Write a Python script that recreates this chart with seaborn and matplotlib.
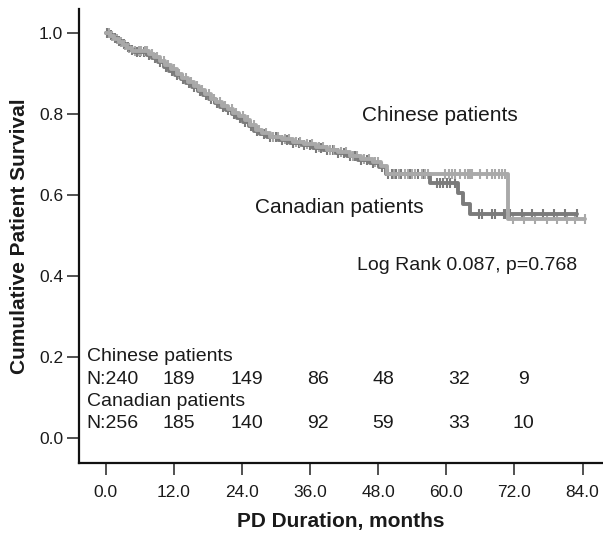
import numpy as np
import pandas as pd
import matplotlib
matplotlib.use("Agg")
import matplotlib.pyplot as plt
import seaborn as sns

# Kaplan-Meier step points (months, cumulative survival)
chinese_time = [0, 0.8, 1.5, 2.3, 3.0, 3.8, 4.6, 7.6, 8.5, 9.5, 10.5, 11.5, 12.5, 13.5,
                14.5, 15.5, 16.5, 17.5, 18.5, 19.5, 20.5, 21.5, 22.5, 23.5, 24.5, 25.5,
                26.5, 27.5, 29.0, 31.0, 33.0, 35.0, 37.0, 39.0, 41.0, 43.0, 45.0, 47.0,
                48.5, 49.5, 70.9]
chinese_surv = [1.0, 0.993, 0.985, 0.977, 0.97, 0.963, 0.955, 0.948, 0.94, 0.93, 0.92, 0.91,
                0.899, 0.889, 0.879, 0.869, 0.858, 0.848, 0.838, 0.829, 0.82, 0.812, 0.803,
                0.794, 0.786, 0.773, 0.760, 0.752, 0.744, 0.737, 0.731, 0.726, 0.719, 0.712,
                0.705, 0.697, 0.689, 0.681, 0.672, 0.652, 0.540]
chinese_censor = [0.5, 1.2, 2.0, 2.7, 3.4, 4.1, 5.2, 5.8, 6.3, 6.9, 7.3, 8.1, 9.0, 10.2,
                  11.0, 12.1, 13.0, 14.2, 15.0, 16.1, 17.0, 18.2, 19.0, 20.1, 21.0, 22.2,
                  23.0, 24.1, 25.0, 26.2, 27.0, 28.2, 29.5, 30.3, 31.5, 32.3, 33.5, 34.3,
                  35.5, 36.3, 37.5, 38.3, 39.5, 40.3, 41.5, 42.3, 43.5, 44.3, 45.5, 46.3,
                  47.5, 48.0, 50.7, 51.6, 52.7, 53.3, 53.9, 54.5, 55.7, 56.3, 56.8, 59.8,
                  60.4, 61.0, 61.5, 62.4, 63.3, 63.9, 64.2, 64.5, 66.0, 67.1, 68.0, 68.6,
                  69.2, 69.8, 70.4, 71.8, 73.6, 75.6, 77.7, 79.5, 81.2, 82.7, 84.5]

canadian_time = [0, 0.6, 1.3, 2.0, 2.8, 3.5, 4.3, 5.0, 7.2, 8.2, 9.2, 10.2, 11.2, 12.2,
                 13.2, 14.2, 15.2, 16.2, 17.2, 18.2, 19.2, 20.2, 21.2, 22.2, 23.2, 24.2,
                 25.2, 26.2, 27.2, 28.5, 30.5, 32.5, 34.5, 36.5, 38.5, 40.5, 42.5, 44.5,
                 46.5, 48.2, 49.3, 57.1, 62.1, 63.0, 64.2]
canadian_surv = [1.0, 0.995, 0.988, 0.98, 0.972, 0.965, 0.958, 0.953, 0.946, 0.937, 0.927,
                 0.917, 0.906, 0.896, 0.886, 0.876, 0.866, 0.856, 0.846, 0.836, 0.827, 0.818,
                 0.809, 0.8, 0.791, 0.781, 0.769, 0.758, 0.75, 0.742, 0.735, 0.729, 0.723,
                 0.717, 0.71, 0.703, 0.695, 0.687, 0.679, 0.67, 0.652, 0.629, 0.604, 0.578,
                 0.553]
canadian_censor = [0.3, 0.9, 1.7, 2.4, 3.2, 3.9, 4.7, 5.5, 6.1, 6.7, 7.6, 8.6, 9.6, 10.6,
                   11.6, 12.6, 13.6, 14.6, 15.6, 16.6, 17.6, 18.6, 19.6, 20.6, 21.6, 22.6,
                   23.6, 24.6, 25.6, 26.6, 27.8, 29.0, 30.0, 31.0, 32.0, 33.0, 34.0, 35.0,
                   36.0, 37.0, 38.0, 39.0, 40.0, 41.0, 42.0, 43.0, 44.0, 45.0, 46.0, 47.0,
                   48.6, 49.8, 50.5, 51.2, 52.0, 53.6, 55.0, 56.0, 58.3, 58.9, 59.5, 60.1,
                   60.7, 61.5, 65.7, 66.3, 68.0, 68.6, 70.1, 70.4, 71.2, 73.3, 75.1, 77.1,
                   78.9, 80.9, 83.0]

# Numbers at risk
risk_times = [0, 12, 24, 36, 48, 60, 72]
chinese_at_risk = [240, 189, 149, 86, 48, 32, 9]
canadian_at_risk = [256, 185, 140, 92, 59, 33, 10]

x_ticks = [0, 12, 24, 36, 48, 60, 72, 84]
y_ticks = [0.0, 0.2, 0.4, 0.6, 0.8, 1.0]

groups = ["Canadian patients", "Chinese patients"]
palette = {"Chinese patients": "#a9a9a9", "Canadian patients": "#7b7b7b"}

sns.set_theme(style="ticks")
plt.rcParams["font.family"] = ["Liberation Sans", "DejaVu Sans"]
text_color = "#1a1a1a"


def step_frame(times, surv, censor, name):
    t = list(times) + [max(censor)]
    s = list(surv) + [surv[-1]]
    return pd.DataFrame({"time": t, "survival": s, "group": name})


def censor_frame(times, surv, censor, name):
    idx = np.searchsorted(np.asarray(times), np.asarray(censor), side="right") - 1
    return pd.DataFrame({"time": censor, "survival": np.asarray(surv)[idx], "group": name})


curves = pd.concat([
    step_frame(canadian_time, canadian_surv, canadian_censor, "Canadian patients"),
    step_frame(chinese_time, chinese_surv, chinese_censor, "Chinese patients"),
], ignore_index=True)
marks = pd.concat([
    censor_frame(canadian_time, canadian_surv, canadian_censor, "Canadian patients"),
    censor_frame(chinese_time, chinese_surv, chinese_censor, "Chinese patients"),
], ignore_index=True)

fig = plt.figure(figsize=(6.03, 5.33), dpi=100)
ax = fig.add_axes([79 / 603, 70 / 533, 524 / 603, 454 / 533])

for g in groups:
    sns.lineplot(data=curves[curves.group == g], x="time", y="survival",
                 color=palette[g], drawstyle="steps-post", estimator=None, sort=False,
                 linewidth=2.8, legend=False, ax=ax)
    sns.scatterplot(data=marks[marks.group == g], x="time", y="survival",
                    color=palette[g], marker="|", s=60, linewidth=1.5,
                    legend=False, ax=ax)

ax.set_xlim(-4.7, 87.6)
ax.set_ylim(-0.062, 1.059)
ax.set_xticks(x_ticks)
ax.set_xticklabels([f"{v:.1f}" for v in x_ticks])
ax.set_yticks(y_ticks)
ax.set_yticklabels([f"{v:.1f}" for v in y_ticks])

for side in ("top", "right"):
    ax.spines[side].set_visible(False)
for side in ("left", "bottom"):
    ax.spines[side].set_linewidth(1.6)
    ax.spines[side].set_color("#111111")

ax.tick_params(axis="both", length=8.5, width=1.2, color="#333333",
               labelsize=12.5, labelcolor=text_color)
ax.tick_params(axis="x", pad=7)
ax.tick_params(axis="y", pad=3)

ax.set_xlabel("PD Duration, months", fontsize=15, fontweight="bold", color=text_color)
ax.set_ylabel("Cumulative Patient Survival", fontsize=15, fontweight="bold", color=text_color)
ax.xaxis.set_label_coords(0.5, -0.108)
ax.yaxis.set_label_coords(-0.096, 0.5)

# Curve annotations
ax.text(45.2, 0.797, "Chinese patients", fontsize=15, color=text_color, va="center")
ax.text(26.3, 0.568, "Canadian patients", fontsize=15, color=text_color, va="center")
ax.text(44.3, 0.425, "Log Rank 0.087, p=0.768", fontsize=14, color=text_color, va="center")

# Numbers-at-risk table
col_x = [-3.35, 12.8, 24.9, 37.4, 48.9, 62.3, 73.6]
ax.text(-3.35, 0.200, "Chinese patients", fontsize=14, color=text_color, va="center")
ax.text(-3.35, 0.0896, "Canadian patients", fontsize=14, color=text_color, va="center")
for row_y, counts in ((0.143, chinese_at_risk), (0.0346, canadian_at_risk)):
    for i, (t, n) in enumerate(zip(risk_times, counts)):
        if i == 0:
            ax.text(col_x[0], row_y, f"N:{n}", fontsize=14, color=text_color,
                    va="center", ha="left")
        else:
            ax.text(col_x[i], row_y, f"{n}", fontsize=14, color=text_color,
                    va="center", ha="center")

fig.savefig("out.png", dpi=100)
